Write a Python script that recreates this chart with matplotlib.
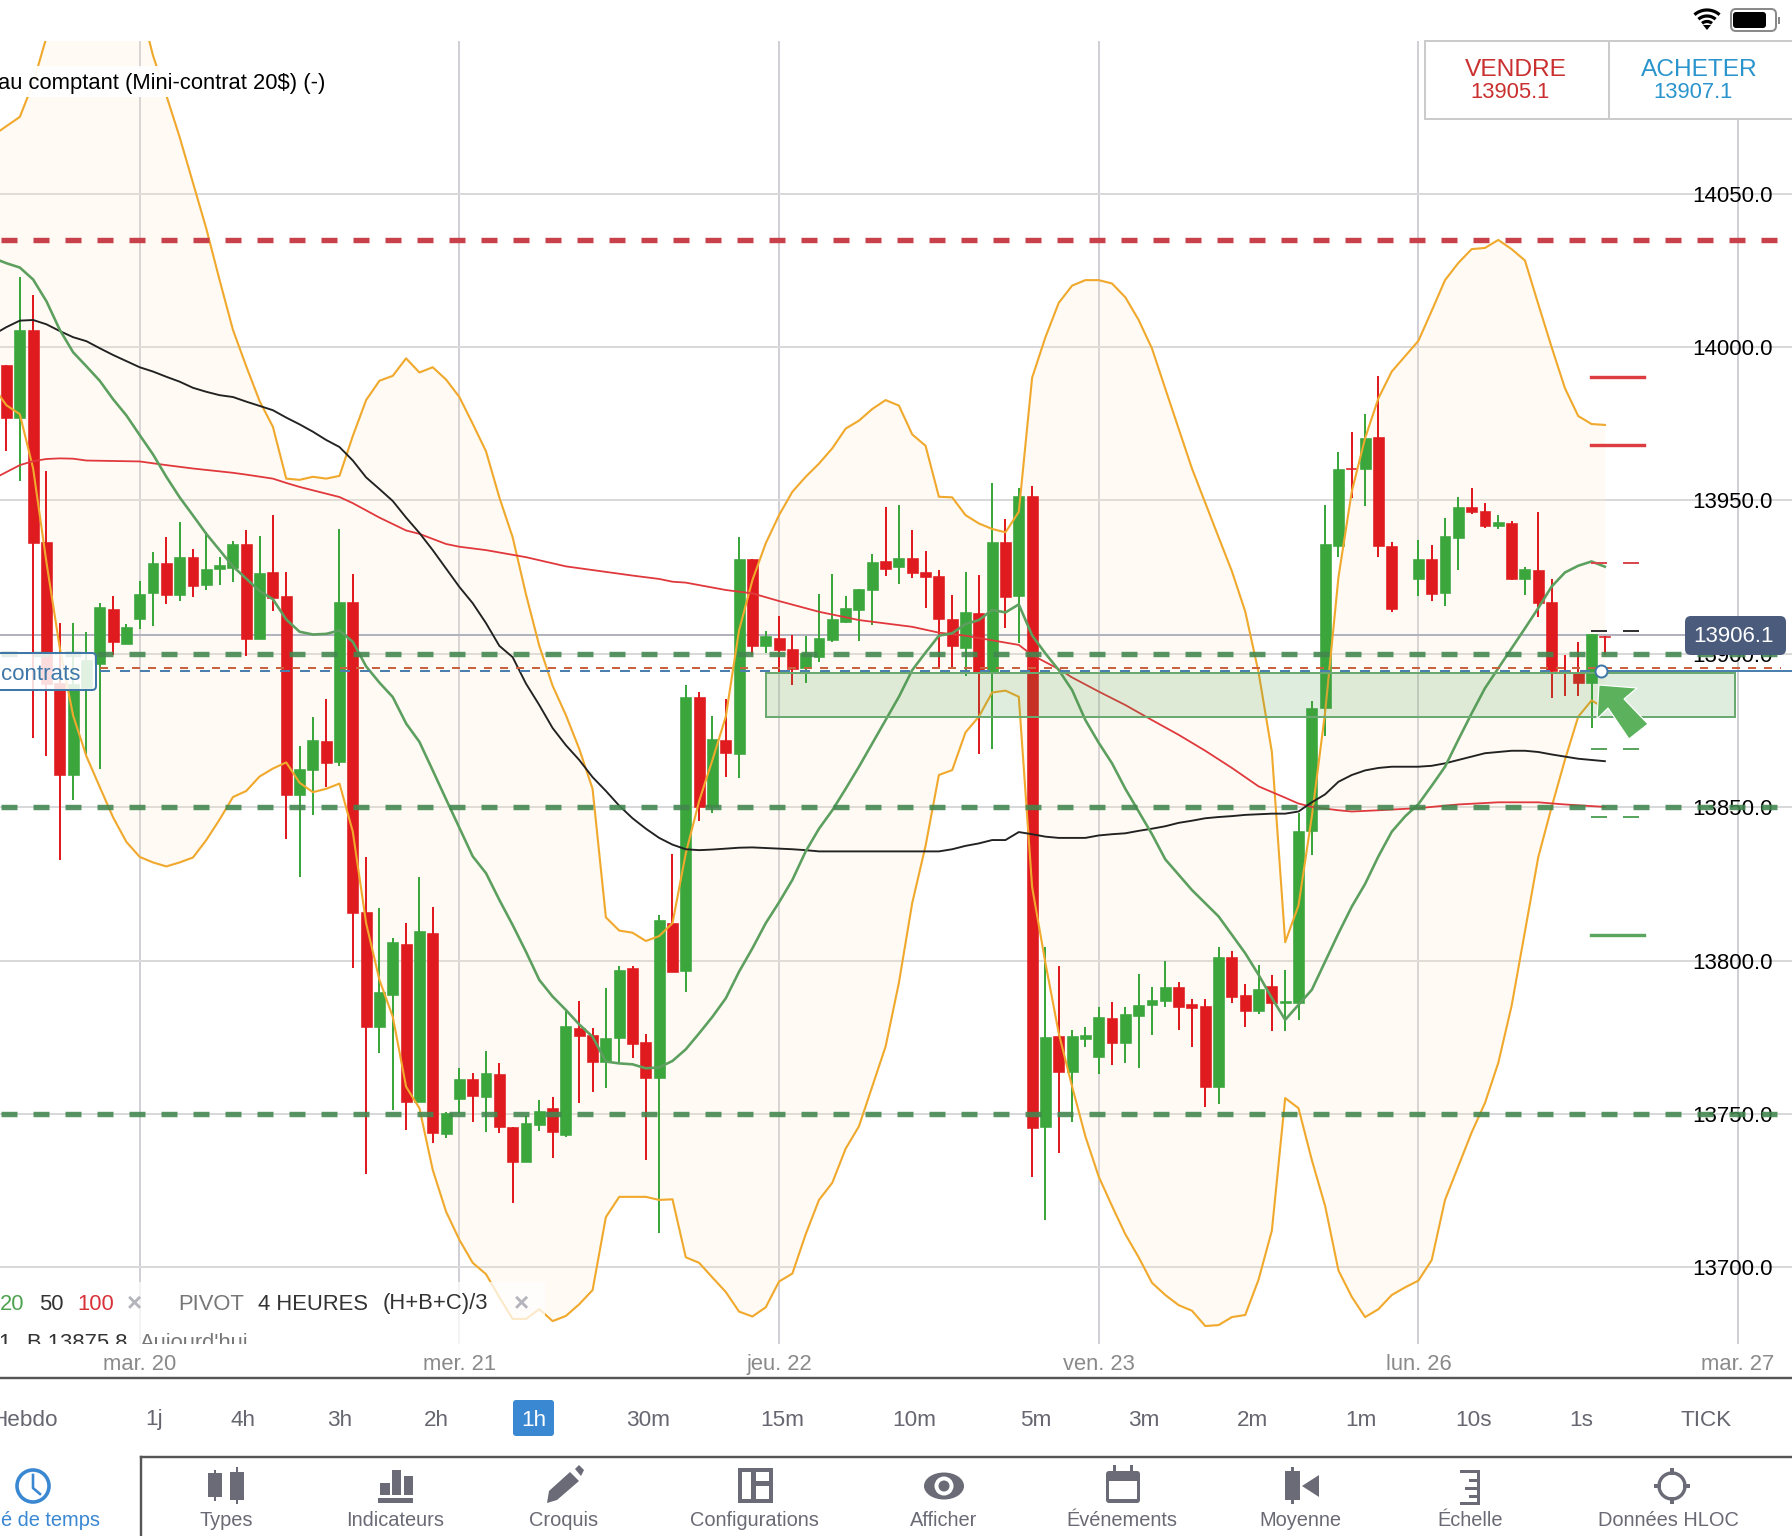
import numpy as np
import matplotlib
matplotlib.use("Agg")
import matplotlib.pyplot as plt
from matplotlib.patches import Rectangle, Circle, Polygon, Ellipse, FancyBboxPatch

plt.rcParams['font.family'] = ['Liberation Sans', 'DejaVu Sans']
plt.rcParams['lines.scale_dashes'] = False

# ---------------- data (hourly candles, index 105 is the closed-market gap) ----------------
opens = [13994.2,13977.0,14005.6,13936.5,13890.6,13860.6,13889.0,13896.6,13914.5,13903.2,
 13911.4,13919.7,13929.5,13919.2,13931.4,13922.5,13927.5,13928.1,13935.7,13904.8,
 13926.7,13918.9,13854.0,13862.2,13871.5,13864.6,13916.8,13816.0,13778.4,13788.9,
 13805.4,13754.0,13808.9,13743.5,13754.8,13761.5,13755.7,13763.2,13745.9,13734.3,
 13746.3,13751.9,13743.2,13778.2,13775.8,13766.8,13774.7,13797.7,13773.4,13761.9,
 13812.3,13796.7,13886.0,13850.0,13871.9,13867.3,13930.8,13902.5,13905.2,13901.6,
 13895.3,13899.1,13904.5,13910.5,13914.3,13920.8,13930.3,13928.4,13931.1,13926.8,
 13925.4,13911.5,13902.0,13913.2,13893.8,13936.3,13918.9,13951.5,13745.9,13775.4,
 13763.8,13774.5,13768.7,13781.3,13773.3,13782.1,13785.4,13786.7,13791.3,13785.7,
 13785.2,13758.7,13801.1,13788.8,13783.7,13791.6,13786.2,13786.1,13842.3,13882.2,
 13935.3,13960.7,13960.2,13970.6,13935.0,np.nan,13924.4,13930.8,13919.7,13937.9,
 13947.7,13946.6,13941.5,13942.6,13924.3,13927.4,13917.0,13894.8,13893.7,13890.6,13905.9]
highs = [13994.2,14022.9,14016.9,13959.7,13909.9,13910.2,13907.2,13916.5,13918.8,13909.6,
 13923.8,13933.1,13938.0,13943.1,13934.2,13939.8,13931.4,13936.7,13940.4,13938.5,
 13945.1,13926.7,13869.9,13879.5,13885.2,13940.8,13926.1,13833.8,13817.0,13807.5,
 13812.2,13827.2,13817.6,13750.8,13764.9,13763.3,13770.5,13766.5,13745.9,13749.2,
 13754.6,13755.4,13783.9,13787.0,13777.9,13791.0,13798.2,13798.2,13776.1,13814.9,
 13834.7,13889.8,13887.6,13879.8,13885.2,13938.2,13930.8,13907.4,13912.3,13906.1,
 13905.9,13919.5,13926.0,13918.8,13921.1,13932.4,13947.9,13948.5,13940.3,13933.5,
 13927.3,13919.2,13926.8,13925.7,13955.6,13944.1,13953.9,13954.7,13804.6,13798.3,
 13777.4,13778.5,13785.0,13786.4,13785.0,13795.5,13791.3,13799.8,13793.0,13787.4,
 13787.4,13804.6,13803.0,13792.4,13798.6,13795.4,13796.8,13848.0,13884.6,13948.5,
 13965.9,13972.2,13978.2,13990.7,13936.3,np.nan,13937.1,13935.5,13944.2,13951.0,
 13954.0,13949.3,13945.3,13943.4,13928.4,13946.1,13924.4,13899.6,13903.7,13906.5,13905.9]
lows = [13966.1,13956.4,13872.6,13866.6,13832.7,13852.4,13866.6,13862.6,13899.5,13903.2,
 13908.2,13909.2,13916.1,13917.2,13918.5,13920.8,13922.5,13923.4,13899.2,13904.8,
 13914.1,13839.6,13827.4,13847.6,13856.6,13863.3,13797.5,13730.5,13770.0,13751.3,
 13744.8,13754.0,13740.4,13742.1,13750.2,13747.5,13744.3,13743.7,13720.9,13734.3,
 13744.5,13735.6,13742.4,13753.7,13757.3,13758.6,13766.8,13768.4,13735.0,13711.1,
 13796.3,13789.9,13845.6,13848.1,13859.9,13859.4,13899.6,13900.4,13893.8,13889.8,
 13890.4,13897.2,13903.7,13910.1,13904.3,13909.4,13925.5,13922.7,13924.8,13914.8,
 13895.8,13895.3,13892.9,13867.2,13869.0,13908.3,13903.4,13729.4,13715.4,13737.4,
 13747.5,13771.8,13763.1,13766.0,13766.6,13764.9,13775.8,13784.8,13777.4,13772.0,
 13752.4,13753.3,13786.1,13778.5,13782.6,13776.9,13777.2,13780.5,13834.4,13873.2,
 13931.5,13950.9,13948.2,13931.7,13913.6,np.nan,13918.7,13917.2,13915.7,13927.2,
 13945.6,13940.9,13940.7,13923.9,13919.2,13912.1,13885.5,13886.3,13886.3,13875.7,13899.6]
closes = [13976.8,14005.6,13936.2,13890.0,13860.4,13890.0,13897.9,13915.4,13903.9,13908.8,
 13919.6,13929.5,13919.2,13931.4,13922.2,13927.7,13929.1,13935.8,13904.8,13926.3,
 13918.2,13854.0,13862.4,13871.8,13864.4,13916.9,13815.6,13778.5,13789.7,13806.2,
 13754.0,13809.7,13743.7,13750.2,13761.3,13755.9,13763.3,13745.7,13734.5,13747.0,
 13751.1,13744.3,13778.7,13775.3,13766.8,13774.7,13796.9,13772.7,13761.9,13813.2,
 13796.3,13886.0,13850.0,13872.1,13867.8,13930.8,13902.5,13905.9,13901.2,13895.0,
 13900.4,13905.2,13911.3,13914.8,13921.1,13930.0,13927.7,13931.3,13926.5,13924.9,
 13911.2,13902.5,13913.5,13893.8,13936.6,13918.6,13951.4,13745.6,13775.1,13763.8,
 13775.5,13775.7,13781.5,13773.3,13782.6,13785.6,13787.1,13791.3,13784.8,13784.7,
 13758.7,13801.1,13788.3,13783.7,13790.9,13786.3,13786.9,13842.3,13882.4,13935.7,
 13960.3,13960.3,13970.3,13935.0,13914.5,np.nan,13930.8,13919.5,13938.4,13947.9,
 13946.1,13941.5,13942.8,13924.3,13927.6,13916.7,13894.5,13893.7,13890.6,13906.5,13905.6]

# Indicator lines: one value per candle, starting one candle before the first
band_upper = [14069,14072,14075,14086,14101,14115,14125,14135,14140,14135,14125,14112,14095,14082,14068.4,14053.5,
 14038.6,14021.8,14005.6,13993.7,13982.4,13974,13957.1,13956.7,13957.7,13957.1,13958,13971,13982.7,13989,13990.6,
 13996.3,13991.7,13993.4,13989.4,13983.7,13975,13966,13951,13938,13919.4,13902.6,13889.6,13880,13869,13856,
 13814.1,13809.8,13809.1,13806.4,13808,13812.2,13835,13852,13865.4,13879.5,13907.7,13924,13936,13945.2,13952.8,
 13957.7,13962,13967,13973.4,13976,13979.8,13982.7,13980.9,13971.5,13967.8,13951.2,13951,13945.2,13942.5,13940.7,
 13939.6,13946.3,13990,14003.2,14014.4,14020,14021.8,14021.8,14020.7,14016.2,14008.8,13999.5,13986.4,13973.4,
 13960.4,13949.2,13938,13926.9,13913.8,13894,13868,13806,13818,13847,13881,13925,13952.9,13970.3,13983.3,13992,
 13997,14002,14011.8,14021.8,14027.4,14031.9,14032.3,14034.9,14031.9,14028.2,14014,14000,13986.6,13977.5,13974.9,13974.6]
band_lower = [13987,13981,13978.1,13960.4,13929.8,13901.9,13879.9,13866.6,13856.6,13846.7,13838.7,13833.8,13832,
 13830.7,13832,13833.6,13839.3,13846,13853.3,13855.3,13860,13862.6,13864.6,13858,13854.9,13856,13857.7,13842,
 13812.2,13793.7,13781.7,13758.9,13751.9,13731.8,13718.2,13709,13701.5,13697.8,13690.3,13683.2,13683.2,13686.4,
 13682.5,13684.2,13688,13692.6,13716.4,13723,13723,13723,13722,13722.2,13703.3,13701.5,13696.7,13692,13685.6,
 13684,13687,13695.4,13698,13710.8,13722,13727.6,13738.7,13746,13759,13772,13792.8,13818.8,13837.4,13860.5,
 13862.1,13874.4,13879.5,13887.4,13888,13886,13824,13799.2,13776.3,13759,13742.7,13729.6,13720,13710.8,13703.3,
 13695,13691,13687.7,13685.9,13680.9,13681.2,13683.8,13684.5,13696,13712,13755.2,13751.9,13735,13720,13699,
 13690.4,13683.8,13686.4,13691,13693.5,13695.7,13702.4,13722,13733,13744,13753.6,13766.7,13785.3,13809.5,
 13833.7,13850,13865.4,13879.5,13884.8,13882.3]
sma20 = [14029,14027.3,14025.9,14022,14014.9,14005.6,13998.3,13993.7,13989,13983,13977.7,13971.3,13965,13957.7,
 13951,13945.1,13939.1,13933.8,13928.5,13924.5,13920.5,13917.8,13911.2,13907.2,13906.3,13906.5,13907.6,13903.9,
 13895.9,13890.6,13885.9,13877.3,13871.3,13862,13852.6,13843.3,13834,13828.5,13819.8,13811.6,13802.9,13793.7,
 13788.3,13783.9,13779.2,13775.2,13767.1,13766.5,13766.2,13764.9,13765.2,13767.3,13771.1,13776.3,13781.7,13787.7,
 13796.4,13804,13812.2,13819,13826.3,13835.6,13843,13849,13856,13863.2,13870.8,13878.4,13886,13894.7,13900.4,
 13905.9,13906.7,13909.7,13911,13914.3,13913.5,13916.1,13906,13900.1,13894.7,13888.2,13878.4,13871,13864.3,13856,
 13848.6,13841.2,13833,13828,13823,13818.7,13814.4,13808.4,13802.4,13795.4,13787.8,13780.7,13785.6,13790.5,
 13799.7,13808.9,13817.6,13825,13834,13842,13847,13851,13857,13863.2,13872,13880.6,13888.8,13895.3,13901.8,
 13908.3,13914.9,13921.9,13926.5,13928.7,13930.1,13928.4]
sma50 = [14004,14006.5,14008.6,14008.8,14007.4,14005.2,14003.2,14001.9,13999.6,13997.4,13995.4,13993.4,13992,
 13990.3,13988.7,13986.7,13985.4,13984.3,13983.7,13982.2,13980.8,13979.4,13977,13974.8,13972.4,13969.7,13967.4,
 13963,13957.5,13953.7,13949.8,13944.4,13939.4,13933.8,13927.8,13921.8,13916.5,13910,13902.6,13898.9,13890.3,
 13883.3,13875.8,13870.2,13865.4,13859.8,13855.3,13850.5,13846.4,13843,13840,13837.8,13836.3,13836,13836.2,13836.5,
 13836.8,13836.9,13836.7,13836.5,13836.3,13836,13835.6,13835.6,13835.6,13835.6,13835.6,13835.6,13835.6,13835.6,
 13835.6,13835.6,13836.3,13837.4,13838.2,13839.3,13839.3,13841.9,13841.2,13840.4,13840,13840,13840,13840.8,13841.2,
 13841.5,13842.3,13843,13843.8,13844.9,13845.6,13846.4,13846.8,13847.1,13847.5,13847.7,13847.9,13847.9,13848.6,
 13851.6,13854.2,13858.3,13860.5,13862,13862.8,13863.2,13863.2,13863.2,13863.5,13864.3,13865.4,13866.5,13867.6,
 13868,13868.4,13868.4,13868,13867.2,13866.5,13865.8,13865.4,13865]
sma100_idx = [-1,1,2,3,4,5,6,10,12,14,17,18,20,21,22,25,26,28,30,31,33,34,36,39,42,47,49,50,51,54,56,58,61,64,68,70,72,
 76,77,79,80,82,84,86,88,90,92,94,96,97,98,100,101,103,106,109,112,115,117,120]
sma100 = [13957,13961.5,13962.8,13963.5,13963.7,13963.6,13963,13962.7,13961.5,13960.4,13959,13958.4,13957.1,13955.7,
 13954.4,13951.1,13949.1,13944.4,13940.2,13939.1,13935.8,13934.9,13933.8,13931.5,13928.5,13925.5,13924.4,13923.5,
 13923.2,13920.8,13919.7,13917.2,13913.7,13911,13908.8,13906.9,13905.9,13902.9,13899.6,13895,13892.3,13887.7,
 13883.3,13878.4,13873.6,13868.4,13862.8,13856.8,13853.1,13851.2,13850.1,13849,13848.6,13849,13849.7,13850.9,
 13851.6,13851.6,13850.9,13850.1]

dash_red_levels = [14034.9]
dash_green_levels = [13900.0, 13850.0, 13750.0]
pivot_levels = [13990.2, 13968.1, 13929.5, 13907.5, 13868.9, 13846.8, 13808.4]
pivot_colors = ['#dd3c40', '#dd3c40', '#d84a4e', '#333333', '#5aa65e', '#5aa65e', '#5aa65e']
pivot_dashed = [False, False, True, True, True, True, False]
price_last = 13906.1
order_sell = 13895.4
order_buy = 13894.4
zone_low, zone_high = 13879.4, 13893.9
y_ticks = [13700, 13750, 13800, 13850, 13900, 13950, 14000, 14050]
x_ticks = [10, 34, 58, 82, 106, 130]
x_labels = ['mar. 20', 'mer. 21', 'jeu. 22', 'ven. 23', 'lun. 26', 'mar. 27']
timeframes = ['1j', '4h', '3h', '2h', '1h', '30m', '15m', '10m', '5m', '3m', '2m', '1m', '10s', '1s', 'TICK']
toolbar = ['Types', 'Indicateurs', 'Croquis', 'Configurations', 'Afficher', 'Événements', 'Moyenne', 'Échelle', 'Données HLOC']

# ---------------- figure ----------------
W, H = 1792, 1536
fig = plt.figure(figsize=(W/100, H/100), dpi=100, facecolor='white')
PT = 0.72  # points per pixel at this dpi
ax = fig.add_axes([0, (H-1344)/H, 1, 1303/H], zorder=1)
ui = fig.add_axes([0, 0, 1, 1], zorder=5)
ui.set_xlim(0, W); ui.set_ylim(H, 0); ui.axis('off'); ui.patch.set_alpha(0)

ax.set_xlim(-0.488, 134.05)
ax.set_ylim(13675.04, 14099.74)
for s in ax.spines.values():
    s.set_visible(False)
ax.set_axisbelow(True)
ax.grid(True, axis='y', color='#d9d9d9', lw=2*PT)
ax.grid(True, axis='x', color='#d0d0d6', lw=2*PT)
ax.set_yticks(y_ticks)
ax.set_yticklabels([f'{v:.1f}' for v in y_ticks], ha='right', fontsize=22.3*PT, color='black')
ax.yaxis.tick_right()
ax.tick_params(axis='y', length=0, pad=-19*PT)
ax.set_xticks(x_ticks)
ax.set_xticklabels(x_labels, fontsize=22*PT, color='#8a8a8a')
ax.tick_params(axis='x', length=0, pad=10*PT)

# bands
band_x = np.arange(-1, 121)
ax.fill_between(band_x, band_lower, band_upper, color=(1, 0.93, 0.8, 0.2), lw=0, zorder=1)

# candles
idx = np.arange(len(opens))
o, h, l, c = map(np.array, (opens, highs, lows, closes))
ok = ~np.isnan(o)
idx, o, h, l, c = idx[ok], o[ok], h[ok], l[ok], c[ok]
GREEN, RED = '#3aa63c', '#e01b1f'
cols = np.where(c >= o, GREEN, RED)
ax.vlines(idx, l, h, colors=cols, lw=2*PT, zorder=3)
ax.bar(idx, np.abs(c-o), bottom=np.minimum(o, c), width=0.82, color=cols, edgecolor=cols, lw=0.6*PT, zorder=4)

# indicators
ax.plot(band_x, band_upper, color='#f0a92d', lw=2.1*PT, zorder=5)
ax.plot(band_x, band_lower, color='#f0a92d', lw=2.1*PT, zorder=5)
ax.plot(sma100_idx, sma100, color='#e0383c', lw=1.8*PT, zorder=5)
ax.plot(band_x, sma50, color='#222222', lw=1.9*PT, zorder=5)
ax.plot(band_x, sma20, color='#5c9f5f', lw=2.6*PT, zorder=5)

# zone
ax.add_patch(Rectangle((57.0, zone_low), 72.8, zone_high-zone_low, facecolor=(0.28, 0.6, 0.28, 0.17),
                       edgecolor='#6aa96f', lw=2*PT, zorder=6))

# long dashed levels
END = 132.95
for v in dash_red_levels:
    ax.plot([-0.41, END], [v, v], color='#c8404a', lw=5.4*PT, ls=(0, (16*PT, 16*PT)), dash_capstyle='butt', zorder=7)
for v in dash_green_levels:
    ax.plot([-0.41, END], [v, v], color=(0.26, 0.53, 0.31, 0.88), lw=5.4*PT, ls=(0, (16*PT, 16*PT)),
            dash_capstyle='butt', zorder=7)

# last price line + order lines
ax.plot([-0.488, 126], [price_last]*2, color='#b3b3c0', lw=2*PT, zorder=2)
ax.plot([7, 133.2], [order_sell]*2, color='#c9633f', lw=2*PT, ls=(0, (8*PT, 8*PT)), dash_capstyle='butt', zorder=7)
ax.plot([7, 119.7], [order_buy]*2, color='#4a7fb0', lw=2*PT, ls=(0, (10*PT, 10*PT)), dash_capstyle='butt', zorder=7)
ax.plot([119.7, 134.05], [order_buy]*2, color='#4a7fb0', lw=2*PT, zorder=7)

# pivot ticks
for v, col, d in zip(pivot_levels, pivot_colors, pivot_dashed):
    ax.plot([118.96, 122.95], [v, v], color=col, lw=(2 if d else 3.4)*PT,
            ls=(0, (16*PT, 16*PT)) if d else '-', dash_capstyle='butt', zorder=7)

ax.plot([119.7], [order_buy], marker='o', ms=12*PT, mfc='white', mec='#3f77a8', mew=2*PT, zorder=8)

# legend strip inside the chart
T = ui.transData
ax.add_patch(Rectangle((0, 1282), 545, 62, transform=T, facecolor='white', alpha=0.75, lw=0, zorder=9))
fs = 22*PT
for x_, s_, col in [(12, '20', '#4fa350'), (51, '50', '#333333'), (96, '100', '#d9333a')]:
    ax.text(x_, 1304, s_, transform=T, ha='center', va='center', fontsize=fs, color=col, zorder=10)
ax.text(134, 1304, '×', transform=T, ha='center', va='center', fontsize=26*PT, color='#b4b4bc', fontweight='bold', zorder=10)
ax.text(178, 1304, 'PIVOT', transform=T, ha='left', va='center', fontsize=fs, color='#777777', zorder=10)
ax.text(258, 1304, '4 HEURES', transform=T, ha='left', va='center', fontsize=fs, color='#333333', zorder=10)
ax.text(383, 1304, '(H+B+C)/3', transform=T, ha='left', va='center', fontsize=fs, color='#333333', zorder=10)
ax.text(521, 1304, '×', transform=T, ha='center', va='center', fontsize=26*PT, color='#b4b4bc', fontweight='bold', zorder=10)
ax.text(-2, 1349, '1', transform=T, ha='left', va='baseline', fontsize=fs, color='#333333', clip_on=True, zorder=10)
ax.text(27, 1349, 'B 13875.8', transform=T, ha='left', va='baseline', fontsize=fs, color='#333333', clip_on=True, zorder=10)
ax.text(140, 1349, "Aujourd'hui", transform=T, ha='left', va='baseline', fontsize=fs, color='#777777', clip_on=True, zorder=10)

# ---------------- overlay UI ----------------
def rect(x0, y0, x1, y1, fc, **kw):
    ui.add_patch(Rectangle((x0, y0), x1-x0, y1-y0, facecolor=fc, lw=0, **kw))

# instrument title
rect(0, 66, 332, 97, 'white', alpha=0.95)
ui.text(-2, 84, 'au comptant (Mini-contrat 20$) (-)', ha='left', va='center', fontsize=22*PT, color='black')

# sell/buy box
ui.add_patch(Rectangle((1425, 41), 368, 78, facecolor='white', edgecolor='#cbcbcb', lw=2*PT))
ui.plot([1609, 1609], [41, 119], color='#cbcbcb', lw=2*PT)
ui.text(1516, 70, 'VENDRE', ha='center', va='center', fontsize=24.5*PT, color='#c9302f')
ui.text(1510.5, 93, '13905.1', ha='center', va='center', fontsize=22*PT, color='#c9302f')
ui.text(1699, 70, 'ACHETER', ha='center', va='center', fontsize=24.5*PT, color='#2a94cc')
ui.text(1693, 93, '13907.1', ha='center', va='center', fontsize=22*PT, color='#2a94cc')

# status icons
t_ = np.linspace(-0.72, 0.72, 30)
for r_ in (7.5, 13, 19):
    ui.plot(1707+r_*np.sin(t_), 29-r_*np.cos(t_), color='black', lw=3.2*PT, solid_capstyle='butt')
ui.add_patch(Polygon([[1703, 25], [1711, 25], [1707, 30]], fc='black', lw=0))
ui.add_patch(FancyBboxPatch((1731, 9), 45, 22, boxstyle='round,pad=0,rounding_size=5', fc='white', ec='#8a8a8a', lw=2*PT))
ui.add_patch(FancyBboxPatch((1733, 12), 33, 16, boxstyle='round,pad=0,rounding_size=3', fc='black', ec='none'))
rect(1778, 17, 1780, 24, '#8a8a8a')

# last price tag
ui.add_patch(FancyBboxPatch((1688, 619), 95, 33, boxstyle='round,pad=3,rounding_size=6', fc='#4a5b7c', ec='none'))
ui.text(1733.5, 637, f'{price_last:.1f}', ha='center', va='center', fontsize=22.3*PT, color='white')

# position tag
ui.add_patch(FancyBboxPatch((-12, 653), 108, 37, boxstyle='round,pad=0,rounding_size=4', fc=(1, 1, 1, 0.85), ec='#3f77a8', lw=2*PT))
ui.text(1, 675, 'contrats', ha='left', va='center', fontsize=22.3*PT, color='#3f77a8')

# arrow
ui.add_patch(Polygon([[1599, 685], [1637, 688], [1624, 699], [1648, 724], [1629, 739], [1608, 708], [1597, 719]],
                     fc='#5cb25c', ec='white', lw=1.2*PT))

# separators
ui.plot([0, W], [1378, 1378], color='#555555', lw=2.4*PT)
ui.plot([141, W], [1457, 1457], color='#555555', lw=2.4*PT)
ui.plot([141, 141], [1457, H], color='#555555', lw=2.4*PT)

# timeframes
tf_x = [154, 243, 339.5, 436.6, 534, 648, 782, 914, 1035.5, 1144, 1252.6, 1361, 1474, 1581, 1706]
ui.text(57.5, 1420, 'Hebdo', ha='right', va='center', fontsize=22.5*PT, color='#666670')
ui.add_patch(FancyBboxPatch((515, 1402), 37, 32, boxstyle='round,pad=2,rounding_size=3', fc='#3a87d2', ec='none'))
for x_, s_ in zip(tf_x, timeframes):
    ui.text(x_, 1420, s_, ha='center', va='center', fontsize=22.5*PT, color='white' if s_ == '1h' else '#666670')

# toolbar labels
tb_x = [226, 395, 563.5, 754, 944, 1122, 1300, 1470, 1668.5]
for x_, s_ in zip(tb_x, toolbar):
    ui.text(x_, 1521, s_, ha='center', va='center', fontsize=20*PT, color='#6a6a75')
ui.text(99.6, 1521, 'é de temps', ha='right', va='center', fontsize=20*PT, color='#3a87d2')

# toolbar icons
IC = '#6b6b78'
ui.add_patch(Circle((33, 1486), 16, fc='none', ec='#3a87d2', lw=3.6*PT))
ui.plot([33, 33, 40], [1475, 1488, 1494], color='#3a87d2', lw=2.6*PT)
rect(208, 1473, 222, 1497, IC); rect(214, 1470, 216, 1501, IC)
rect(230, 1472, 244, 1500, IC); rect(236, 1467, 238, 1504, IC)
rect(380, 1483, 390, 1495, IC); rect(392, 1470, 401, 1495, IC); rect(404, 1476, 413, 1495, IC); rect(378, 1498, 413, 1503, IC)
ui.add_patch(Polygon([[547, 1503], [549, 1491], [570, 1472], [579, 1481], [557, 1500]], fc=IC, lw=0))
ui.add_patch(Polygon([[575, 1469], [579, 1465], [584, 1470], [581, 1476]], fc=IC, lw=0))
rect(738, 1468, 773, 1503, IC); rect(742, 1472, 751, 1499, 'white'); rect(756, 1472, 769, 1481, 'white'); rect(756, 1486, 769, 1499, 'white')
ui.add_patch(Ellipse((944, 1486), 40, 27, fc=IC, lw=0)); ui.add_patch(Circle((944, 1486), 9.5, fc='white', lw=0)); ui.add_patch(Circle((944, 1486), 5.5, fc=IC, lw=0))
ui.add_patch(FancyBboxPatch((1107, 1472), 32, 30, boxstyle='round,pad=1,rounding_size=3', fc=IC, ec='none'))
rect(1109, 1481, 1137, 1499, 'white'); rect(1113, 1465, 1116, 1477, IC); rect(1130, 1465, 1133, 1477, IC)
rect(1285, 1471, 1300, 1500, IC); rect(1291, 1467, 1294, 1504, IC)
ui.add_patch(Polygon([[1302, 1486], [1319, 1475], [1319, 1497]], fc=IC, lw=0))
rect(1477, 1470, 1480, 1505, IC)
for y_, x0_ in zip((1470, 1479, 1487, 1495, 1502), (1460, 1469, 1465, 1469, 1460)):
    rect(x0_, y_, 1480, y_+3, IC)
ui.add_patch(Circle((1672, 1486), 13, fc='none', ec=IC, lw=3.4*PT))
for (a_, b_, c_, d_) in ((1670, 1468, 1674, 1475), (1670, 1497, 1674, 1504), (1654, 1484, 1661, 1488), (1683, 1484, 1690, 1488)):
    rect(a_, b_, c_, d_, IC)

fig.savefig('out.png', dpi=100, facecolor='white')
